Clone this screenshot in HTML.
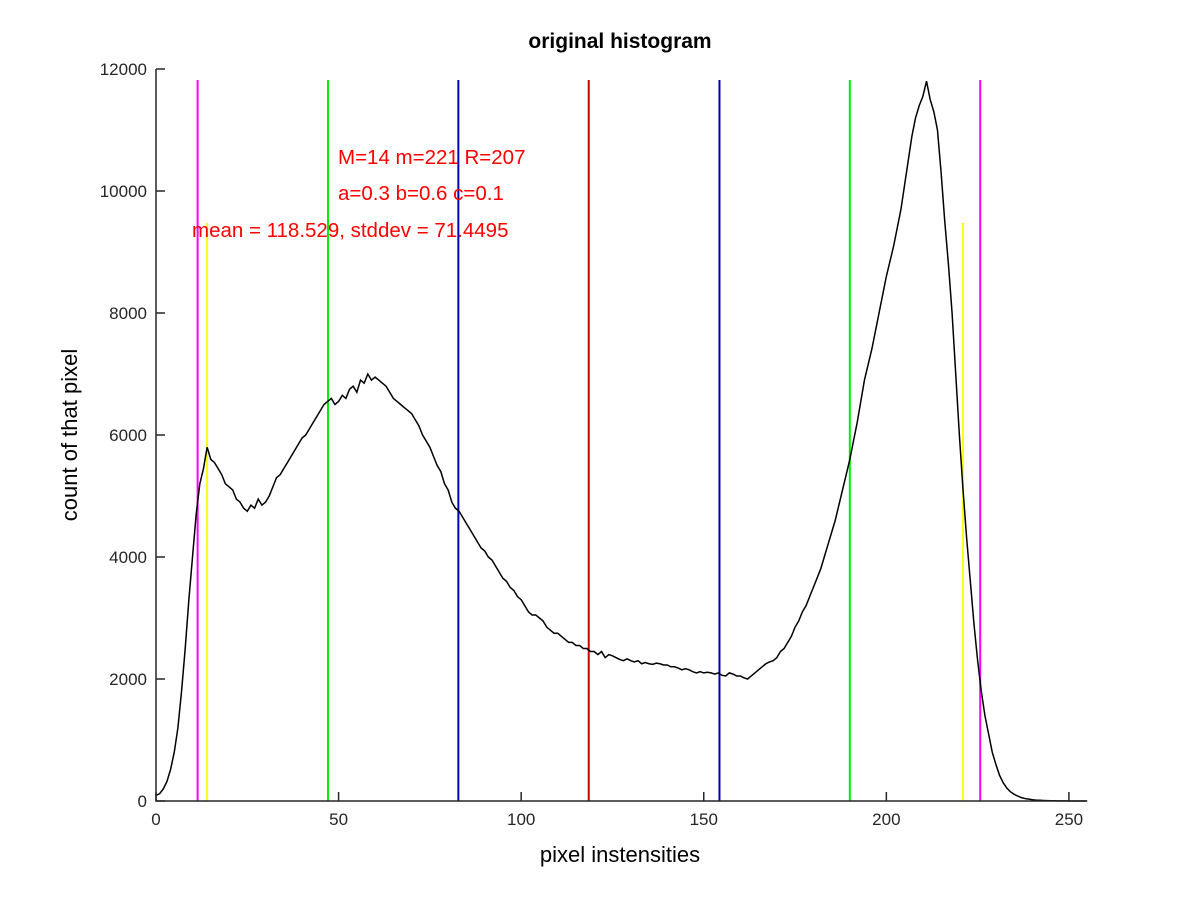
<!DOCTYPE html>
<html><head><meta charset="utf-8"><style>
body{margin:0;background:#fff;}
svg text{font-family:"Liberation Sans",sans-serif;}
</style></head><body>
<svg id="chart" width="1200" height="900" viewBox="0 0 1200 900" xmlns="http://www.w3.org/2000/svg">
<rect width="1200" height="900" fill="#fff"/>
<text x="620" y="48" font-size="21" font-weight="bold" text-anchor="middle">original histogram</text>
<g id="lines"></g>
<g id="curve"></g>
<g id="axes"></g>
<g fill="#f00" font-size="20.5">
<text x="338" y="164">M=14 m=221 R=207</text>
<text x="338" y="200">a=0.3 b=0.6 c=0.1</text>
<text x="192" y="237">mean = 118.529, stddev = 71.4495</text>
</g>
<text x="620" y="862" font-size="22" text-anchor="middle">pixel instensities</text>
<text x="0" y="0" font-size="22" text-anchor="middle" transform="translate(77,435) rotate(-90)">count of that pixel</text>
</svg>
<script>
const counts=[90,120,200,320,520,800,1200,1800,2500,3300,
4000,4700,5200,5450,5800,5600,5550,5450,5350,5200,
5150,5100,4950,4900,4800,4750,4850,4800,4950,4850,
4900,5000,5150,5300,5350,5450,5550,5650,5750,5850,
5950,6000,6100,6200,6300,6400,6500,6550,6600,6500,
6550,6650,6600,6750,6800,6700,6900,6850,7000,6900,
6950,6900,6850,6800,6700,6600,6550,6500,6450,6400,
6350,6250,6150,6000,5900,5800,5650,5500,5400,5200,
5100,4900,4800,4750,4650,4550,4450,4350,4250,4150,
4100,4000,3950,3850,3750,3650,3600,3500,3450,3350,
3300,3200,3100,3050,3050,3000,2950,2850,2800,2750,
2750,2700,2650,2600,2600,2550,2550,2500,2500,2450,
2450,2400,2450,2350,2400,2380,2350,2320,2300,2330,
2300,2280,2300,2250,2270,2250,2240,2260,2250,2230,
2230,2200,2200,2180,2150,2170,2150,2120,2100,2120,
2100,2110,2100,2080,2100,2060,2050,2100,2080,2050,
2050,2020,2000,2050,2100,2150,2200,2250,2280,2300,
2350,2450,2500,2600,2700,2850,2950,3100,3200,3350,
3500,3650,3800,4000,4200,4400,4600,4850,5100,5350,
5600,5900,6200,6550,6900,7150,7400,7700,8000,8300,
8600,8850,9100,9400,9700,10100,10500,10900,11200,11400,
11550,11800,11500,11300,11000,10300,9500,8800,8000,7000,
6000,5100,4300,3600,2900,2300,1800,1400,1100,800,
600,420,300,210,150,110,80,55,40,30,
20,15,12,9,7,5,4,3,2,2,1,1,1,0,0,0];
const markerX=[11.4,225.7,14,221,47.1,190,82.8,154.3,118.5];
const markerTop=[11820,11820,9475,9475,11820,11820,11820,11820,11820];
const markerColors=["#f0f","#f0f","#ff0","#ff0","#0e0","#0e0","#00b","#00b","#c00"];
const xTicks=[0,50,100,150,200,250];
const yTicks=[0,2000,4000,6000,8000,10000,12000];
const NS="http://www.w3.org/2000/svg";
const X0=156,X1=1085,Y0=801,Y1=69;
const xs=v=>X0+v*(X1-X0)/254.4;
const ys=v=>Y0-v*(Y0-Y1)/12000;
function mk(t,a,p){const e=document.createElementNS(NS,t);for(const k in a)e.setAttribute(k,a[k]);p.appendChild(e);return e;}
const gl=document.getElementById('lines');
markerX.forEach((v,i)=>{
 const l=mk('line',{x1:xs(v),x2:xs(v),y1:ys(0),y2:ys(markerTop[i]),stroke:markerColors[i],'stroke-width':2},gl);
 
 
});
const gc=document.getElementById('curve');
const p=mk('polyline',{points:counts.map((c,i)=>xs(i)+','+ys(c)).join(' '),fill:'none',stroke:'#000','stroke-width':1.5},gc);


const ga=document.getElementById('axes');
const ax=mk('path',{d:`M${X0},${Y1}V${Y0}H${X1}`,fill:'none',stroke:'#262626','stroke-width':1.5},ga);


xTicks.forEach(t=>{
 mk('line',{x1:xs(t),x2:xs(t),y1:Y0,y2:Y0-9,stroke:'#262626','stroke-width':1.5},ga);
 const tx=mk('text',{x:xs(t),y:Y0+24,'font-size':17,'text-anchor':'middle',fill:'#262626'},ga);
 tx.textContent=t;
 
 
});
yTicks.forEach(t=>{
 mk('line',{x1:X0,x2:X0+9,y1:ys(t),y2:ys(t),stroke:'#262626','stroke-width':1.5},ga);
 const tx=mk('text',{x:X0-9,y:ys(t)+6,'font-size':17,'text-anchor':'end',fill:'#262626'},ga);
 tx.textContent=t;
 
 
});
</script>
</body></html>
